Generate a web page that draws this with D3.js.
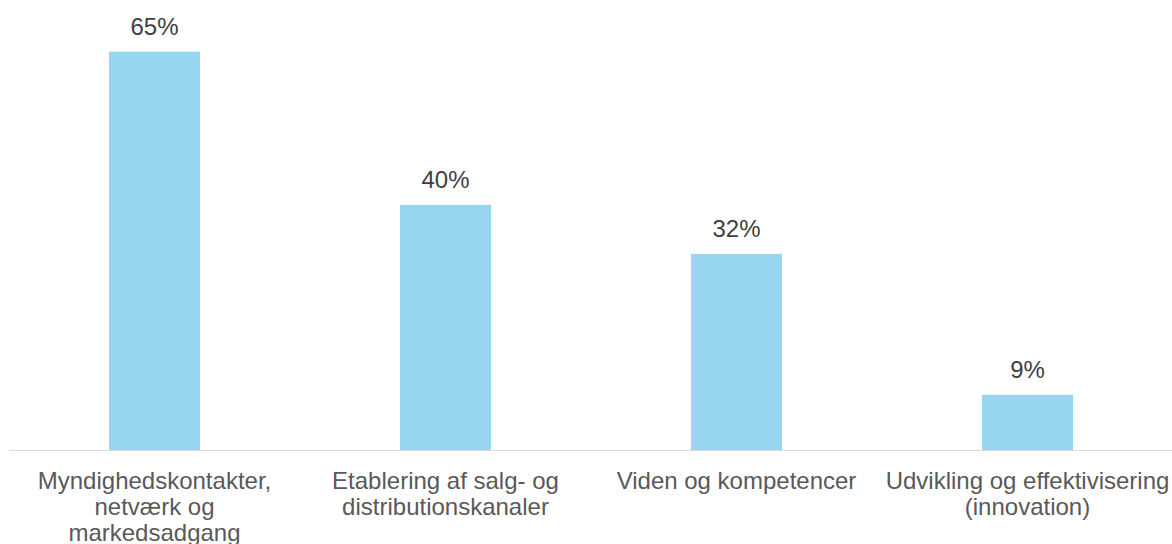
<!DOCTYPE html>
<html>
<head>
<meta charset="utf-8">
<script src="https://cdn.jsdelivr.net/npm/d3@7"></script>
<style>
  html, body { margin: 0; padding: 0; background: #ffffff; }
  svg { display: block; font-family: "Liberation Sans", Arial, sans-serif; }
</style>
</head>
<body>
<svg id="chart" width="1172" height="544"></svg>
<script>
// Category labels, one entry per line of text
const categories = [
  ["Myndighedskontakter,", "netværk og", "markedsadgang"],
  ["Etablering af salg- og", "distributionskanaler"],
  ["Viden og kompetencer"],
  ["Udvikling og effektivisering", "(innovation)"]
];
const values = [0.65, 0.40, 0.32, 0.09];

const W = 1172, H = 544;
const margin = { left: 9, right: 0, top: 21, baseline: 450 };

const svg = d3.select("#chart");

const keys = categories.map((c, i) => "c" + i);

const x = d3.scaleBand()
  .domain(keys)
  .range([margin.left, 1173])
  .paddingInner(0.687)
  .paddingOuter(0.3435);

const y = d3.scaleLinear()
  .domain([0, 0.7])
  .range([margin.baseline, margin.top]);

const pct = d3.format(".0%");

// Bars
svg.append("g")
  .selectAll("rect")
  .data(values)
  .join("rect")
  .attr("x", (d, i) => x(keys[i]))
  .attr("y", d => y(d))
  .attr("width", x.bandwidth())
  .attr("height", d => y(0) - y(d))
  .attr("fill", "#97d5f0");

// Category axis
const xAxis = svg.append("g")
  .attr("transform", `translate(0,${margin.baseline})`)
  .call(d3.axisBottom(x).tickSize(0).tickFormat(""));
xAxis.select(".domain")
  .attr("stroke", "#d9d9d9")
  .attr("stroke-width", 1.2)
  .attr("d", `M${margin.left},0.5H${W}`);

xAxis.selectAll(".tick").each(function(k, i) {
  const t = d3.select(this).append("text")
    .attr("text-anchor", "middle")
    .attr("fill", "#595959")
    .attr("font-size", 24);
  categories[i].forEach((line, j) => {
    t.append("tspan")
      .attr("x", 0)
      .attr("y", 39 + j * 26)
      .text(line);
  });
});

// Value labels
svg.append("g")
  .selectAll("text")
  .data(values)
  .join("text")
  .attr("x", (d, i) => x(keys[i]) + x.bandwidth() / 2)
  .attr("y", d => y(d) - 17)
  .attr("text-anchor", "middle")
  .attr("fill", "#404040")
  .attr("font-size", 24)
  .text(d => pct(d));
</script>
</body>
</html>
